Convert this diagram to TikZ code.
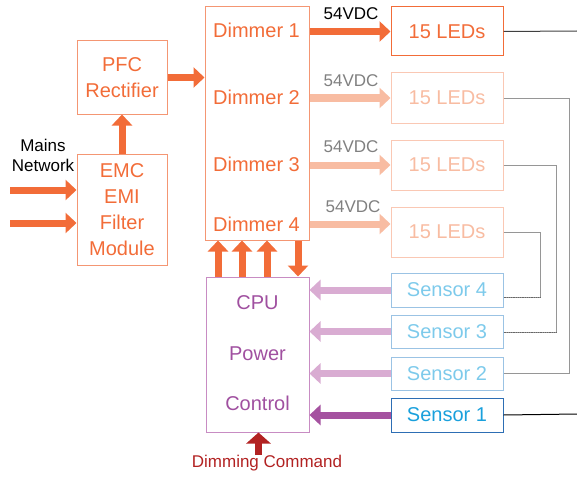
\documentclass[tikz,border=0pt]{standalone}
\usepackage{fontspec}
\setmainfont{Liberation Sans}
\usetikzlibrary{arrows.meta}
\definecolor{org}{RGB}{242,108,56}
\definecolor{orgbox}{RGB}{244,150,115}
\definecolor{lorg}{RGB}{248,188,162}
\definecolor{lorgbox}{RGB}{250,200,180}
\definecolor{cpuT}{RGB}{160,80,160}
\definecolor{cpuB}{RGB}{200,140,195}
\definecolor{lpur}{RGB}{217,172,210}
\definecolor{dpur}{RGB}{165,82,160}
\definecolor{sT}{RGB}{125,202,235}
\definecolor{sB}{RGB}{155,195,228}
\definecolor{s1T}{RGB}{25,160,220}
\definecolor{s1B}{RGB}{45,110,180}
\definecolor{dred}{RGB}{178,34,34}
\definecolor{gline}{RGB}{150,150,150}
\tikzset{
  box/.style={draw, line width=1pt, inner sep=0pt, align=center, font=\fontsize{20}{26}\selectfont},
  lbl/.style={inner sep=0pt, font=\fontsize{20}{24}\selectfont},
  small/.style={inner sep=0pt, font=\fontsize{17}{20}\selectfont},
  fat/.style={line width=7pt, -{Triangle[width=20pt,length=11pt]}},
}
\begin{document}
\begin{tikzpicture}[x=1pt,y=-1pt]
\useasboundingbox (0,0) rectangle (577,476);
% boxes
\node[box, draw=orgbox, text=org, minimum width=90pt, minimum height=73pt] (pfc) at (122,77.5) {PFC\\Rectifier};
\node[box, draw=orgbox, text=org, minimum width=90pt, minimum height=111pt] (emc) at (122,209.5) {EMC\\EMI\\Filter\\Module};
\node[box, draw=orgbox, minimum width=104pt, minimum height=233pt] (dim) at (257,123.5) {};
\node[lbl, text=org, anchor=west] (d1) at (213,30) {Dimmer 1};
\node[lbl, text=org, anchor=west] (d2) at (213,97) {Dimmer 2};
\node[lbl, text=org, anchor=west] (d3) at (213,164) {Dimmer 3};
\node[lbl, text=org, anchor=west] (d4) at (213,224) {Dimmer 4};
\node[box, draw=org, text=org, minimum width=112pt, minimum height=49pt] (led1) at (447,31.5) {15 LEDs};
\node[box, draw=lorgbox, text=lorg, minimum width=112pt, minimum height=50pt] (led2) at (447,98) {15 LEDs};
\node[box, draw=lorgbox, text=lorg, minimum width=112pt, minimum height=50pt] (led3) at (447,165) {15 LEDs};
\node[box, draw=lorgbox, text=lorg, minimum width=112pt, minimum height=50pt] (led4) at (447,232) {15 LEDs};
\node[box, draw=cpuB, minimum width=103pt, minimum height=155pt] (cpu) at (257.5,354.5) {};
\node[lbl, text=cpuT] (c1) at (257.5,303) {CPU};
\node[lbl, text=cpuT] (c2) at (257.5,354) {Power};
\node[lbl, text=cpuT] (c3) at (257.5,403) {Control};
\node[box, draw=sB, text=sT, minimum width=112pt, minimum height=34pt] (s4) at (447,290) {Sensor 4};
\node[box, draw=sB, text=sT, minimum width=112pt, minimum height=33pt] (s3) at (447,331.5) {Sensor 3};
\node[box, draw=sB, text=sT, minimum width=112pt, minimum height=33pt] (s2) at (447,373.5) {Sensor 2};
\node[box, draw=s1B, text=s1T, minimum width=112pt, minimum height=34pt] (s1) at (447,415) {Sensor 1};
% labels
\node[small, align=center] (mains) at (43,155) {Mains\\Network};
\node[small, text=black] (v1) at (351,14) {54VDC};
\node[small, text=gray] (v2) at (351,81) {54VDC};
\node[small, text=gray] (v3) at (351,147) {54VDC};
\node[small, text=gray] (v4) at (353,207) {54VDC};
\node[small, text=dred] (dc) at (267,463) {Dimming Command};
\coordinate (m1) at (10,190);
\coordinate (m2) at (10,223);
\coordinate (dcs) at (258.5,455);
% arrows
\draw[fat, org] (m1) -- (emc.west |- m1);
\draw[fat, org] (m2) -- (emc.west |- m2);
\draw[fat, org] (emc.north) -- (pfc.south);
\draw[fat, org] (pfc.east) -- (dim.west |- pfc.east);
\draw[fat, org] (dim.east |- led1) -- (led1.west);
\draw[fat, lorg] (dim.east |- led2) -- (led2.west);
\draw[fat, lorg] (dim.east |- led3) -- (led3.west);
\draw[fat, lorg] ([yshift=8pt]dim.east |- led4) -- ([yshift=8pt]led4.west);
\draw[fat, org] ([xshift=-39.5pt]cpu.north) -- ([xshift=-39pt]dim.south);
\draw[fat, org] ([xshift=-15.5pt]cpu.north) -- ([xshift=-15pt]dim.south);
\draw[fat, org] ([xshift=9.5pt]cpu.north) -- ([xshift=10pt]dim.south);
\draw[fat, org] ([xshift=41pt]dim.south) -- ([xshift=40.5pt]cpu.north);
\draw[fat, lpur] (s4.west) -- (cpu.east |- s4);
\draw[fat, lpur] (s3.west) -- (cpu.east |- s3);
\draw[fat, lpur] (s2.west) -- (cpu.east |- s2);
\draw[fat, dpur] (s1.west) -- (cpu.east |- s1);
\draw[fat, dred, -{Triangle[width=24pt,length=11pt]}] (dcs) -- (cpu.south -| dcs);
% wiring
\coordinate (e1) at (577,31);
\coordinate (e2) at (577,414);
\draw[line width=1pt, black!75] (led1.east) -- (e1);
\draw[line width=1pt, black] (s1.east) -- (e2);
\draw[line width=0.8pt, gline] (led2.east) -- ++(66,0) |- (s2.east);
\draw[line width=0.8pt, gline] (led3.east) -- ++(53,0) |- ([yshift=-0.5pt]s3.east);
\draw[line width=0.8pt, gline] (led4.east) -- ++(37,0) |- ([yshift=-7pt]s4.east);
\draw[line width=0.8pt, black!60, densely dotted] ([yshift=-0.5pt]s3.east) -- ++(53,0);
\draw[line width=0.8pt, black!60, densely dotted] ([yshift=-7pt]s4.east) -- ++(37,0);
\end{tikzpicture}
\end{document}
